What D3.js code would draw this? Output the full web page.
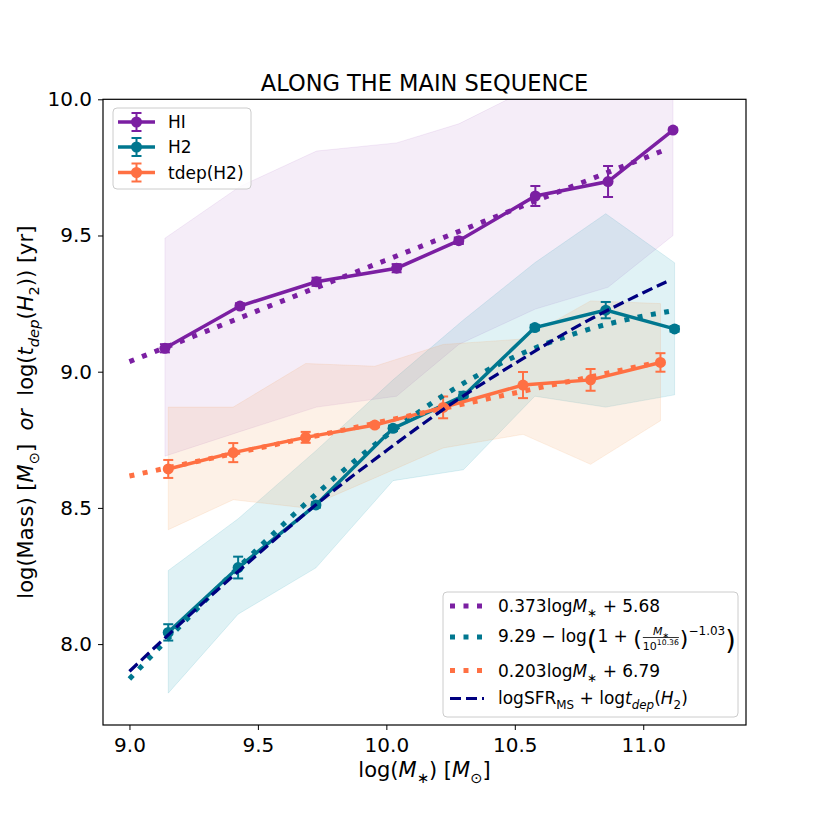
<!DOCTYPE html>
<html>
<head>
<meta charset="utf-8">
<script src="https://cdn.jsdelivr.net/npm/d3@7"></script>
<style>
  body { margin: 0; background: #fff; }
  text { font-family: "DejaVu Sans", sans-serif; fill: #000; white-space: pre; }
</style>
</head>
<body>
<svg id="chart" width="830" height="830"></svg>
<script>
// ---- data ----
var mHI = [9.138, 9.43, 9.728, 10.04, 10.282, 10.58, 10.863, 11.116];
var HI = [9.086, 9.241, 9.330, 9.380, 9.481, 9.645, 9.698, 9.887];
var HIerr = [0.015, 0.010, 0.015, 0.015, 0.012, 0.037, 0.057, 0.006];
var HIlo = [8.69, 8.78, 8.87, 8.91, 9.10, 9.23, 9.31, 9.50];
var HIhi = [9.49, 9.68, 9.81, 9.84, 9.91, 10.05, 10.10, 10.10];

var mH2 = [9.151, 9.423, 9.726, 10.026, 10.30, 10.578, 10.854, 11.122];
var H2 = [8.043, 8.281, 8.511, 8.792, 8.911, 9.162, 9.226, 9.157];
var H2err = [0.03, 0.04, 0.01, 0.01, 0.015, 0.01, 0.03, 0.01];
var H2lo = [7.82, 8.11, 8.28, 8.60, 8.64, 8.91, 8.87, 8.915];
var H2hi = [8.27, 8.46, 8.71, 8.97, 9.19, 9.40, 9.58, 9.40];

var mT = [9.151, 9.404, 9.686, 9.955, 10.221, 10.532, 10.795, 11.067];
var TD = [8.643, 8.703, 8.759, 8.804, 8.869, 8.951, 8.970, 9.034];
var TDerr = [0.033, 0.035, 0.02, 0.008, 0.04, 0.048, 0.04, 0.034];
var TDlo = [8.42, 8.53, 8.50, 8.61, 8.72, 8.77, 8.66, 8.82];
var TDhi = [8.87, 8.87, 9.03, 9.02, 9.10, 9.12, 9.26, 9.25];

// fit curves
var fitX = [9.0, 9.25, 9.5, 9.75, 10.0, 10.25, 10.5, 10.75, 11.0, 11.1];
var fitHI = [9.037, 9.130, 9.224, 9.317, 9.410, 9.503, 9.597, 9.690, 9.783, 9.820];
var fitH2 = [7.872, 8.117, 8.351, 8.570, 8.765, 8.929, 9.055, 9.145, 9.204, 9.221];
var fitTD = [8.617, 8.668, 8.719, 8.769, 8.820, 8.871, 8.922, 8.972, 9.023, 9.043];
var msX = [9.0, 9.25, 9.5, 9.75, 10.0, 10.25, 10.5, 10.75, 11.0, 11.09];
var msY = [7.90, 8.12, 8.33, 8.53, 8.71, 8.88, 9.03, 9.17, 9.29, 9.33];

var xTicks = [9.0, 9.5, 10.0, 10.5, 11.0];
var yTicks = [8.0, 8.5, 9.0, 9.5, 10.0];

var cHI = "#7b1fa2", cH2 = "#00778f", cTD = "#ff7043", cMS = "#000080";

// ---- layout ----
var L = 103, R = 746, T = 99.3, B = 725;
var svg = d3.select("#chart");

var x = d3.scaleLinear().domain([8.897, 11.40]).range([L, R]);
var y = d3.scaleLinear().domain([7.703, 10.0]).range([B, T]);

svg.append("clipPath").attr("id", "clip")
  .append("rect").attr("x", L).attr("y", T).attr("width", R - L).attr("height", B - T);

var plot = svg.append("g").attr("clip-path", "url(#clip)");

// shaded ranges
function band(xs, lo, hi, col, op) {
  var area = d3.area().x(function(d) { return x(d[0]); })
    .y0(function(d) { return y(d[1]); }).y1(function(d) { return y(d[2]); });
  var pts = xs.map(function(v, i) { return [v, lo[i], hi[i]]; });
  plot.append("path").attr("d", area(pts))
    .attr("fill", col).attr("fill-opacity", op)
    .attr("stroke", col).attr("stroke-opacity", op).attr("stroke-width", 1);
}
band(mHI, HIlo, HIhi, "#7b1fa2", 0.08);
band(mH2, H2lo, H2hi, "#0096aa", 0.12);
band(mT, TDlo, TDhi, "#f4a460", 0.15);

var line = d3.line().x(function(d) { return x(d[0]); }).y(function(d) { return y(d[1]); });

function series(xs, ys, es, col) {
  var pts = xs.map(function(v, i) { return [v, ys[i]]; });
  plot.append("path").attr("d", line(pts)).attr("fill", "none")
    .attr("stroke", col).attr("stroke-width", 3.5);
  var g = plot.append("g").attr("stroke", col).attr("stroke-width", 2);
  xs.forEach(function(v, i) {
    var px = x(v), y1 = y(ys[i] - es[i]), y2 = y(ys[i] + es[i]);
    g.append("line").attr("x1", px).attr("x2", px).attr("y1", y1).attr("y2", y2);
    g.append("line").attr("x1", px - 5).attr("x2", px + 5).attr("y1", y1).attr("y2", y1);
    g.append("line").attr("x1", px - 5).attr("x2", px + 5).attr("y1", y2).attr("y2", y2);
  });
  plot.append("g").selectAll("circle").data(pts).enter().append("circle")
    .attr("cx", function(d) { return x(d[0]); }).attr("cy", function(d) { return y(d[1]); })
    .attr("r", 5.5).attr("fill", col);
}
series(mHI, HI, HIerr, cHI);
series(mH2, H2, H2err, cH2);
series(mT, TD, TDerr, cTD);

function fit(xs, ys, col, w, dash) {
  var pts = xs.map(function(v, i) { return [v, ys[i]]; });
  plot.append("path").attr("d", line.curve(d3.curveMonotoneX)(pts)).attr("fill", "none")
    .attr("stroke", col).attr("stroke-width", w).attr("stroke-dasharray", dash);
  line.curve(d3.curveLinear);
}
fit(fitX, fitHI, cHI, 5, "5 8.5");
fit(fitX, fitH2, cH2, 5, "5 8.5");
fit(fitX, fitTD, cTD, 5, "5 8.5");
fit(msX, msY, cMS, 3.2, "11 5");

// ---- axes ----
var xAxis = svg.append("g").attr("transform", "translate(0," + B + ")")
  .call(d3.axisBottom(x).tickValues(xTicks).tickFormat(d3.format(".1f")).tickSize(5).tickPadding(8));
var yAxis = svg.append("g").attr("transform", "translate(" + L + ",0)")
  .call(d3.axisLeft(y).tickValues(yTicks).tickFormat(d3.format(".1f")).tickSize(5).tickPadding(6));
[xAxis, yAxis].forEach(function(a) {
  a.select(".domain").remove();
  a.selectAll("text").attr("font-size", 20).attr("font-family", "DejaVu Sans").attr("fill", "#000");
  a.selectAll("line").attr("stroke", "#000");
});
svg.append("rect").attr("x", L).attr("y", T).attr("width", R - L).attr("height", B - T)
  .attr("fill", "none").attr("stroke", "#000").attr("stroke-width", 1.2);

// rich text helper: parts with sub/sup/italic
function rich(sel, parts, base) {
  var off = 0;
  parts.forEach(function(p) {
    var target = p.sub ? base * 0.28 : (p.sup ? -base * 0.4 : 0);
    var ts = sel.append("tspan").attr("dy", target - off).text(p.t);
    off = target;
    if (p.sub || p.sup) ts.attr("font-size", base * 0.7);
    if (p.it) ts.style("font-style", "italic");
  });
}

svg.append("text").attr("x", (L + R) / 2).attr("y", 91).attr("text-anchor", "middle")
  .attr("font-size", 22.5).text("ALONG THE MAIN SEQUENCE");

var xl = svg.append("text").attr("x", (L + R) / 2).attr("y", 777).attr("text-anchor", "middle")
  .attr("font-size", 21);
rich(xl, [{t: "log("}, {t: "M", it: 1}, {t: "∗", sub: 1}, {t: ") ["}, {t: "M", it: 1},
  {t: "⊙", sub: 1}, {t: "]"}], 21);

var yl = svg.append("text").attr("transform", "translate(33," + (T + B) / 2 + ") rotate(-90)")
  .attr("text-anchor", "middle").attr("font-size", 21);
rich(yl, [{t: "log(Mass) ["}, {t: "M", it: 1}, {t: "⊙", sub: 1}, {t: "]  "}, {t: "or", it: 1},
  {t: "  log("}, {t: "t", it: 1}, {t: "dep", it: 1, sub: 1}, {t: "("}, {t: "H", it: 1},
  {t: "2", sub: 1}, {t: ")) [yr]"}], 21);

// ---- legend: data ----
var lg1 = svg.append("g");
lg1.append("rect").attr("x", 113).attr("y", 108).attr("width", 138).attr("height", 81).attr("rx", 4)
  .attr("fill", "#fff").attr("fill-opacity", 0.8).attr("stroke", "#cccccc");
[["HI", cHI, 122], ["H2", cH2, 147], ["tdep(H2)", cTD, 172.5]].forEach(function(r) {
  var g = lg1.append("g").attr("stroke", r[1]);
  g.append("line").attr("x1", 118).attr("x2", 155).attr("y1", r[2]).attr("y2", r[2]).attr("stroke-width", 3.5);
  g.append("line").attr("x1", 136.5).attr("x2", 136.5).attr("y1", r[2] - 9).attr("y2", r[2] + 9).attr("stroke-width", 2);
  g.append("line").attr("x1", 131.5).attr("x2", 141.5).attr("y1", r[2] - 9).attr("y2", r[2] - 9).attr("stroke-width", 2);
  g.append("line").attr("x1", 131.5).attr("x2", 141.5).attr("y1", r[2] + 9).attr("y2", r[2] + 9).attr("stroke-width", 2);
  lg1.append("circle").attr("cx", 136.5).attr("cy", r[2]).attr("r", 5.5).attr("fill", r[1]);
  lg1.append("text").attr("x", 168).attr("y", r[2] + 6).attr("font-size", 17).text(r[0]);
});

// ---- legend: fits ----
var lg2 = svg.append("g");
lg2.append("rect").attr("x", 443).attr("y", 592).attr("width", 295).attr("height", 125).attr("rx", 4)
  .attr("fill", "#fff").attr("fill-opacity", 0.8).attr("stroke", "#cccccc");
[[cHI, 606, 5, "5 8.5"], [cH2, 637, 5, "5 8.5"], [cTD, 670.5, 5, "5 8.5"], [cMS, 698.5, 3.2, "11 5"]].forEach(function(r) {
  lg2.append("line").attr("x1", 450).attr("x2", 484).attr("y1", r[1]).attr("y2", r[1])
    .attr("stroke", r[0]).attr("stroke-width", r[2]).attr("stroke-dasharray", r[3]);
});
var tx = 498;
var t1 = lg2.append("text").attr("x", tx).attr("y", 612).attr("font-size", 17);
rich(t1, [{t: "0.373log"}, {t: "M", it: 1}, {t: "∗", sub: 1}, {t: " + 5.68"}], 17);
var t3 = lg2.append("text").attr("x", tx).attr("y", 677).attr("font-size", 17);
rich(t3, [{t: "0.203log"}, {t: "M", it: 1}, {t: "∗", sub: 1}, {t: " + 6.79"}], 17);
var t4 = lg2.append("text").attr("x", tx).attr("y", 704).attr("font-size", 17);
rich(t4, [{t: "logSFR"}, {t: "MS", sub: 1}, {t: " + log"}, {t: "t", it: 1}, {t: "dep", it: 1, sub: 1},
  {t: "("}, {t: "H", it: 1}, {t: "2", sub: 1}, {t: ")"}], 17);

// row 2: 9.29 - log(1 + (M*/10^10.36)^-1.03)
var b2 = 641.5, cx = tx;
function piece(str, size, yy, italic) {
  var t = lg2.append("text").attr("x", cx).attr("y", yy).attr("font-size", size).text(str);
  if (italic) t.style("font-style", "italic");
  cx += t.node().getComputedTextLength();
  return t;
}
piece("9.29 − log", 17, b2);
piece("(", 27, b2 + 7);
piece("1 + ", 17, b2);
piece("(", 22, b2 + 4);
// fraction
var fx = cx + 1;
var num = lg2.append("text").attr("y", b2 - 7).attr("font-size", 11);
rich(num, [{t: "M", it: 1}, {t: "∗", sub: 1}], 11);
var den = lg2.append("text").attr("y", b2 + 8).attr("font-size", 11);
rich(den, [{t: "10"}, {t: "10.36", sup: 1}], 11);
var wn = num.node().getComputedTextLength(), wd = den.node().getComputedTextLength();
var fw = Math.max(wn, wd);
num.attr("x", fx + (fw - wn) / 2);
den.attr("x", fx + (fw - wd) / 2);
lg2.append("line").attr("x1", fx).attr("x2", fx + fw).attr("y1", b2 - 4).attr("y2", b2 - 4)
  .attr("stroke", "#000").attr("stroke-width", 0.8);
cx = fx + fw + 1;
piece(")", 22, b2 + 4);
piece("−1.03", 12, b2 - 7);
piece(")", 27, b2 + 7);
</script>
</body>
</html>
